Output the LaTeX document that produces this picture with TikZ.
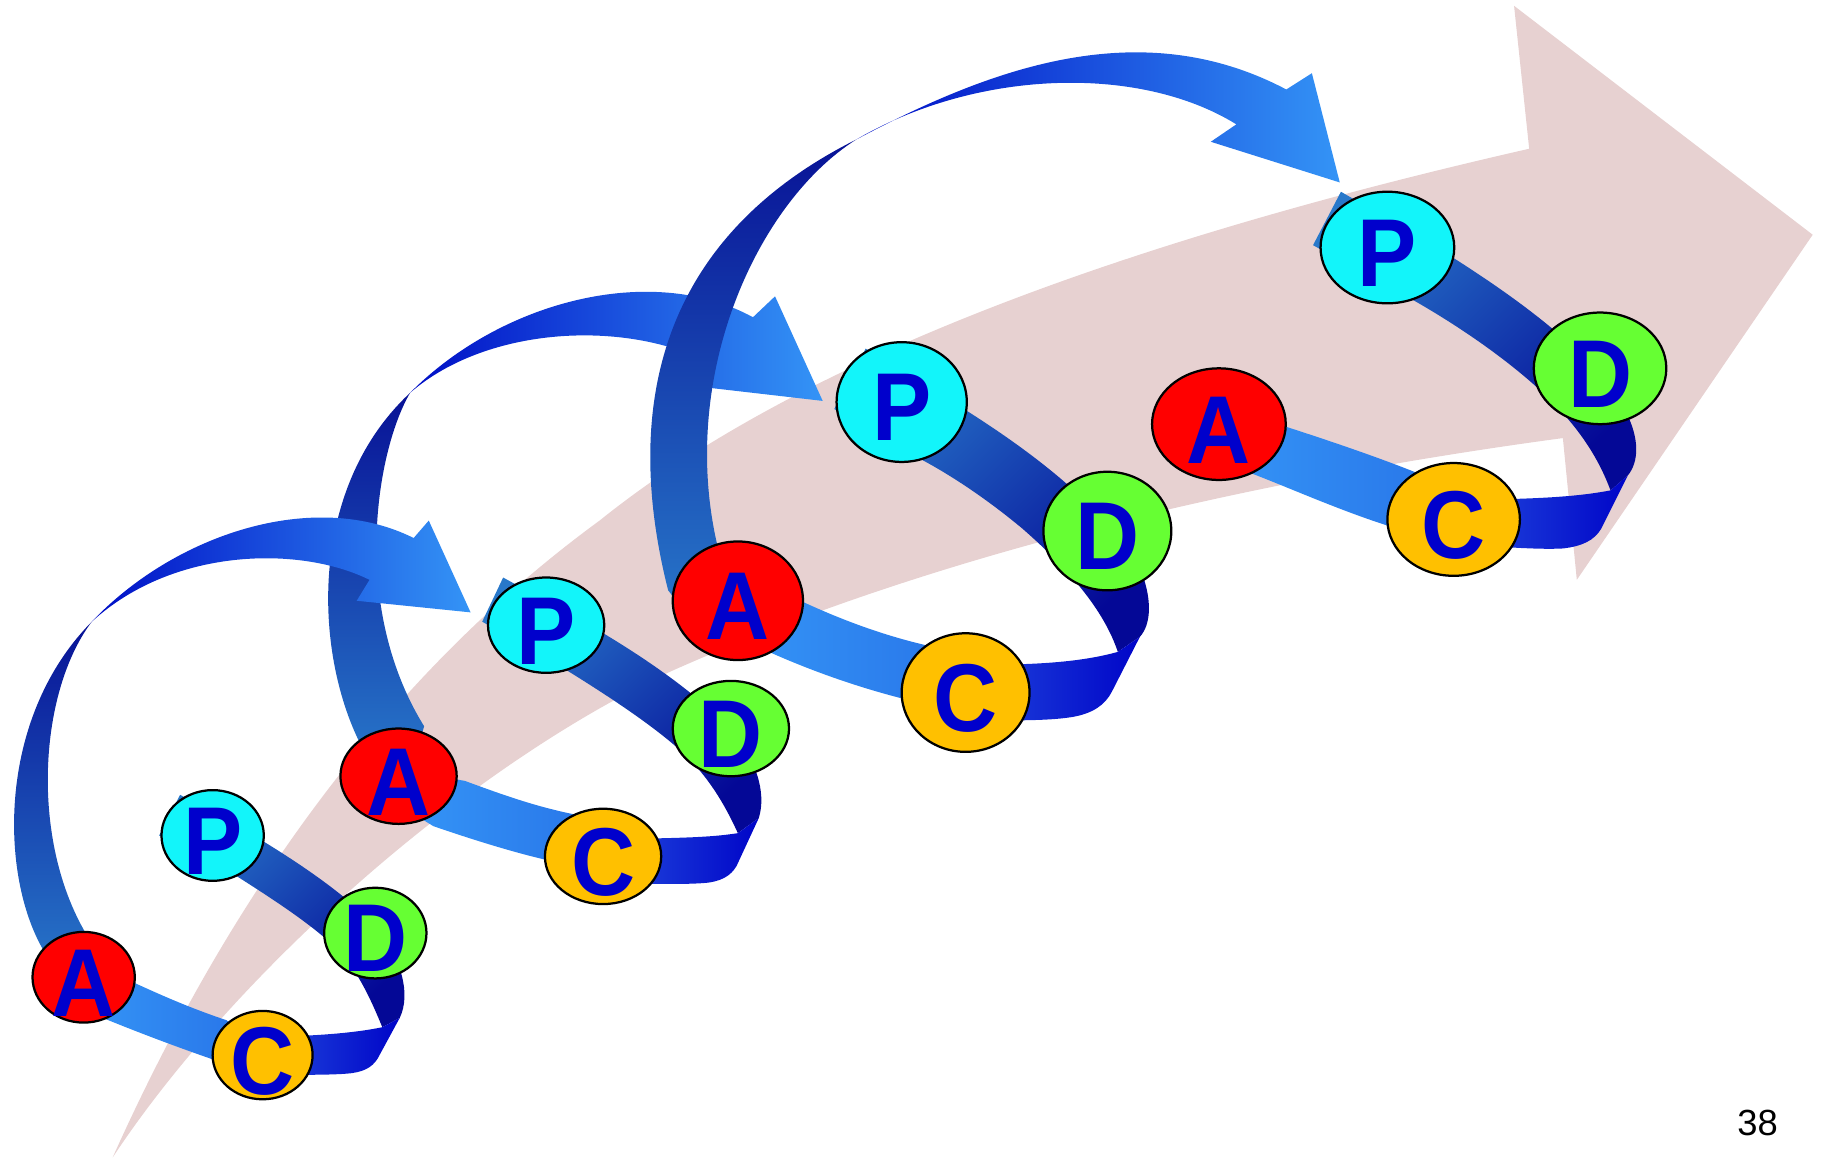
\documentclass[tikz,border=0pt]{standalone}
\usepackage{fontspec}
\usepackage{graphicx}
\setmainfont{Liberation Sans}
\usetikzlibrary{shapes.geometric}

\definecolor{trend}{RGB}{231,209,209}
\definecolor{stageP}{RGB}{18,245,250}
\definecolor{stageD}{RGB}{102,255,51}
\definecolor{stageC}{RGB}{255,192,0}
\definecolor{stageA}{RGB}{255,0,0}
\definecolor{glyph}{RGB}{0,0,204}
\definecolor{ribbonMid}{RGB}{40,120,202}
\definecolor{ribbonDeep}{RGB}{8,18,150}
\definecolor{ribbonNavy}{RGB}{4,8,150}
\definecolor{foldRight}{RGB}{0,5,200}
\definecolor{foldLeft}{RGB}{28,62,218}
\definecolor{returnLight}{RGB}{52,148,246}
\definecolor{returnDark}{RGB}{40,116,232}
\definecolor{arcDark}{RGB}{0,14,198}
\definecolor{arcLight}{RGB}{52,148,246}

% letters of the cycle are slightly condensed
\newcommand\pdcaglyph[1]{\scalebox{0.92}[1]{#1}}

\begin{document}
\begin{tikzpicture}[x=0.01cm, y=-0.01cm,
  stage/.style={ellipse, draw=black, line width=0.55pt, inner sep=0pt},
  stageplan/.style={stage, fill=stageP},
  stagedo/.style={stage, fill=stageD},
  stagecheck/.style={stage, fill=stageC},
  stageact/.style={stage, fill=stageA},
  pdcaletter/.style={font=\bfseries\fontsize{23.6}{24}\selectfont, text=glyph, inner sep=0pt},
  outward/.style={top color=ribbonMid, bottom color=ribbonNavy, shading angle=45},
  fold/.style={left color=foldLeft, right color=foldRight},
  back/.style={left color=returnLight, right color=returnDark},
  rise/.style={top color=ribbonDeep, bottom color=ribbonMid},
  leap/.style={left color=arcDark, right color=arcLight}]

\useasboundingbox (0,0) rectangle (1568,996);

% ---------- broad improvement arrow in the background ----------
\fill[trend] (97,996) .. controls (185,800) and (315,595) .. (516,448)
  .. controls (700,300) and (1000,200) .. (1316,128)
  -- (1303,5) -- (1560,202) -- (1357,499) -- (1345,377)
  .. controls (1100,410) and (820,470) .. (579,577)
  .. controls (400,660) and (200,840) .. (97,996) -- cycle;

% ---------- cycle 1 ribbon ----------
\shade[rise] (55,845) -- (40,822) .. controls (0,760) and (-5,620) .. (79,535)
  .. controls (30,600) and (25,740) .. (85,820) -- (85,835) -- cycle;
\shade[outward] (137,719) -- (155,684) -- (215,717)
  .. controls (250,738) and (300,770) .. (325,800)
  .. controls (345,825) and (354,855) .. (344,876)
  -- (329,884)
  .. controls (320,862) and (310,840) .. (295,822)
  .. controls (275,800) and (240,777) .. (199,751) -- cycle;
\shade[fold] (329,884) -- (344,876) -- (325,911)
  .. controls (320,919) and (312,923) .. (298,924)
  .. controls (285,925) and (265,925) .. (245,925)
  -- (245,892) .. controls (275,891) and (305,889) .. (329,884) -- cycle;
\shade[back] (90,838) -- (116,846) .. controls (140,857) and (165,868) .. (195,878) -- (215,895)
  -- (210,925) -- (184,912) .. controls (155,902) and (120,889) .. (86,875) -- (75,865) -- cycle;

% ---------- cycle 2 ribbon ----------
\shade[rise] (330,665) -- (310,640) .. controls (270,560) and (265,420) .. (353,338)
  .. controls (325,385) and (300,520) .. (365,625) -- (355,660) -- cycle;
\shade[outward] (415,535) -- (433,497) -- (495,531)
  .. controls (540,556) and (600,595) .. (630,630)
  .. controls (650,652) and (660,682) .. (653,704)
  -- (635,717)
  .. controls (625,695) and (612,672) .. (592,652)
  .. controls (570,630) and (530,603) .. (488,577) -- cycle;
\shade[fold] (635,717) -- (653,704) -- (634,745)
  .. controls (629,754) and (620,759) .. (605,760)
  .. controls (590,761) and (565,761) .. (545,760)
  -- (545,722) .. controls (580,721) and (610,721) .. (635,717) -- cycle;
\shade[back] (360,665) -- (400,672) .. controls (430,683) and (460,694) .. (495,701) -- (520,715)
  -- (515,750) -- (470,740) .. controls (440,733) and (405,722) .. (373,711) -- (355,700) -- cycle;

% arc from the first cycle up to the second plan stage
\shade[leap] (79,535) .. controls (150,460) and (270,420) .. (356,463)
  -- (369,448) -- (405,527) -- (307,517) -- (318,499)
  .. controls (260,470) and (150,470) .. (79,535) -- cycle;

% arc from the second cycle up to the third plan stage
\shade[leap] (353,338) .. controls (430,260) and (560,225) .. (648,273)
  -- (667,255) -- (708,345) -- (604,333) -- (612,313)
  .. controls (540,275) and (420,280) .. (353,338) -- cycle;

% ---------- cycle 3 ribbon ----------
\shade[rise] (600,540) -- (575,508) .. controls (532,338) and (577,200) .. (737,120)
  .. controls (650,175) and (580,330) .. (620,480) -- (640,515) -- cycle;
\shade[outward] (718,352) -- (745,300) -- (810,340)
  .. controls (880,382) and (960,440) .. (985,500)
  .. controls (991,520) and (990,538) .. (981,548)
  -- (962,561)
  .. controls (950,525) and (920,490) .. (880,455)
  .. controls (850,430) and (820,410) .. (794,396) -- cycle;
\shade[fold] (962,561) -- (981,548) -- (957,595)
  .. controls (951,607) and (940,614) .. (923,617)
  .. controls (905,620) and (880,620) .. (850,620)
  -- (850,572) .. controls (890,572) and (930,570) .. (962,561) -- cycle;
\shade[back] (655,505) -- (691,518) .. controls (730,536) and (765,548) .. (800,556) -- (835,575)
  -- (825,612) -- (780,602) .. controls (740,592) and (700,578) .. (664,562) -- (640,548) -- cycle;

% arc from the third cycle up to the fourth plan stage
\shade[leap] (737,120) .. controls (850,60) and (980,10) .. (1107,77)
  -- (1129,63) -- (1153,157) -- (1042,122) -- (1064,107)
  .. controls (980,55) and (840,60) .. (737,120) -- cycle;

% ---------- cycle 4 ribbon ----------
\shade[outward] (1130,211) -- (1154,165) -- (1220,203)
  .. controls (1290,245) and (1370,300) .. (1398,352)
  .. controls (1412,378) and (1410,398) .. (1401,409)
  -- (1386,422)
  .. controls (1376,395) and (1360,370) .. (1335,345)
  .. controls (1305,315) and (1260,283) .. (1214,257) -- cycle;
\shade[fold] (1386,422) -- (1401,409) -- (1378,455)
  .. controls (1372,465) and (1362,470) .. (1345,472)
  .. controls (1325,473) and (1300,471) .. (1280,470)
  -- (1280,430) .. controls (1320,429) and (1355,428) .. (1386,422) -- cycle;
\shade[back] (1065,360) -- (1106,367) .. controls (1140,378) and (1185,393) .. (1222,408) -- (1250,425)
  -- (1240,460) -- (1193,452) .. controls (1150,438) and (1110,420) .. (1076,407) -- (1055,395) -- cycle;

% ---------- stages ----------
% cycle 1
\node[stageplan,  minimum width=0.88cm, minimum height=0.78cm] (P1) at (183,719) {};
\node[stagedo,    minimum width=0.88cm, minimum height=0.78cm] (D1) at (323,803) {};
\node[stagecheck, minimum width=0.86cm, minimum height=0.76cm] (C1) at (226,908) {};
\node[stageact,   minimum width=0.88cm, minimum height=0.78cm] (A1) at (72,841) {};
% cycle 2
\node[stageplan,  minimum width=1.00cm, minimum height=0.82cm] (P2) at (470,538) {};
\node[stagedo,    minimum width=1.00cm, minimum height=0.82cm] (D2) at (629,627) {};
\node[stagecheck, minimum width=1.00cm, minimum height=0.82cm] (C2) at (519,737) {};
\node[stageact,   minimum width=1.00cm, minimum height=0.82cm] (A2) at (343,668) {};
% cycle 3
\node[stageplan,  minimum width=1.12cm, minimum height=1.03cm] (P3) at (776,346) {};
\node[stagedo,    minimum width=1.10cm, minimum height=1.02cm] (D3) at (953,457) {};
\node[stagecheck, minimum width=1.10cm, minimum height=1.02cm] (C3) at (831,596) {};
\node[stageact,   minimum width=1.12cm, minimum height=1.02cm] (A3) at (635,517) {};
% cycle 4
\node[stageplan,  minimum width=1.15cm, minimum height=0.96cm] (P4) at (1194,213) {};
\node[stagedo,    minimum width=1.14cm, minimum height=0.96cm] (D4) at (1377,317) {};
\node[stagecheck, minimum width=1.14cm, minimum height=0.97cm] (C4) at (1251,447) {};
\node[stageact,   minimum width=1.15cm, minimum height=0.96cm] (A4) at (1049,365) {};

% stage letters
\foreach \c in {1,2,3,4}{
  \node[pdcaletter] (P\c t) at ([yshift=-1.4pt]P\c.center) {\pdcaglyph{P}};
  \node[pdcaletter] (D\c t) at ([yshift=-1.4pt]D\c.center) {\pdcaglyph{D}};
  \node[pdcaletter] (C\c t) at ([yshift=-1.4pt]C\c.center) {\pdcaglyph{C}};
  \node[pdcaletter] (A\c t) at ([yshift=-1.4pt]A\c.center) {\pdcaglyph{A}};
}

% page number
\node[font=\fontsize{8.9}{10}\selectfont, inner sep=0pt] (pageno) at (1512.5,966.5) {38};
\end{tikzpicture}
\end{document}
